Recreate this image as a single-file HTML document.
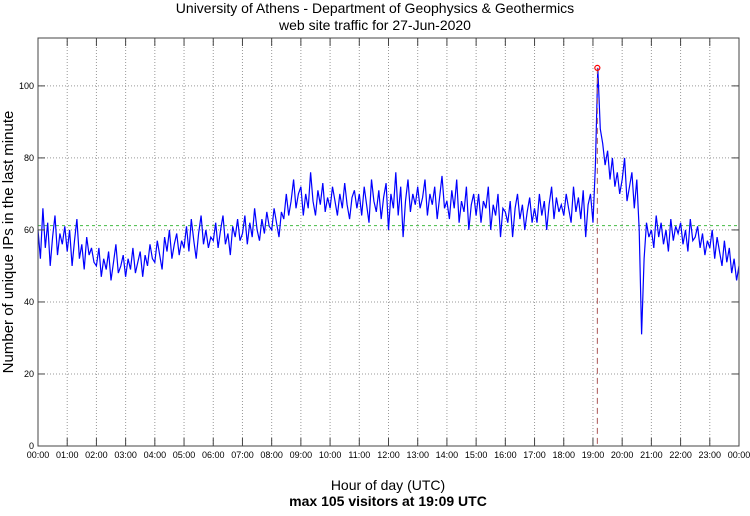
<!DOCTYPE html>
<html><head><meta charset="utf-8"><style>
body{margin:0;background:#fff;width:750px;height:511px;overflow:hidden}
text{font-family:"Liberation Sans",sans-serif;fill:#000}
</style></head><body>
<svg id="chart" width="750" height="511" viewBox="0 0 750 511" xmlns="http://www.w3.org/2000/svg">
<text x="375" y="13" font-size="14" text-anchor="middle">University of Athens - Department of Geophysics &amp; Geothermics</text>
<text x="375" y="30" font-size="14" text-anchor="middle">web site traffic for 27-Jun-2020</text>
<text transform="translate(13,242) rotate(-90)" font-size="15" text-anchor="middle">Number of unique IPs in the last minute</text>
<text x="388" y="490" font-size="14" text-anchor="middle">Hour of day (UTC)</text>
<text x="388" y="506" font-size="14" font-weight="bold" text-anchor="middle">max 105 visitors at 19:09 UTC</text>
<g id="grid"></g><g id="series"></g><g id="axes"></g>
</svg>
<script>
const yTicks=[0,20,40,60,80,100];
const hourLabels=["00:00","01:00","02:00","03:00","04:00","05:00","06:00","07:00","08:00","09:00","10:00","11:00","12:00","13:00","14:00","15:00","16:00","17:00","18:00","19:00","20:00","21:00","22:00","23:00","00:00"];
const visitors=[
60,52,66,55,62,50,58,64,53,59,56,61,
54,60,50,57,63,52,56,49,58,53,55,51,
50,55,47,52,49,54,46,51,56,48,50,53,
47,52,49,55,48,51,54,47,53,50,56,52,
51,57,53,49,58,54,60,52,56,59,53,57,
55,61,54,63,57,52,59,64,56,60,55,58,
57,62,55,60,64,56,59,53,61,58,63,57,
59,64,56,62,58,66,60,57,63,59,65,61,
60,66,62,58,65,63,70,64,68,74,66,70,
72,64,70,66,76,68,64,71,67,73,65,69,
66,72,68,64,70,66,73,67,63,69,71,66,
70,64,72,67,62,74,68,65,71,63,69,73,
60,70,66,76,64,72,58,68,74,65,70,67,
72,66,69,74,64,70,67,72,63,69,75,66,
68,63,71,66,74,62,68,65,72,60,67,70,
64,70,62,68,66,72,60,67,64,70,58,66,
65,62,68,58,66,70,63,67,60,65,69,62,
66,62,70,64,68,60,67,72,63,69,65,67,
64,70,66,62,72,65,69,63,71,58,67,70,
62,78,105,88,84,78,82,74,80,72,76,70,
74,80,68,72,76,66,74,60,31,52,62,58,
60,55,64,58,62,56,60,54,63,57,61,59,
62,56,60,54,63,57,58,61,55,59,53,57,
55,60,52,58,54,50,57,51,55,48,52,46,
50];
const stepMinutes=[5];
const meanValue=[61.2];
const peakTime=[19+9/60];
const peakValue=[105];

const L=38,R=739,T=38,B=446,yMax=113.3;
const xS=h=>L+(R-L)*h/24;
const yS=v=>B-(B-T)*v/yMax;
const NS="http://www.w3.org/2000/svg";
function mk(tag,attrs,parent){const e=document.createElementNS(NS,tag);for(const k in attrs)e.setAttribute(k,attrs[k]);parent.appendChild(e);return e;}
const grid=document.getElementById('grid'),ser=document.getElementById('series'),ax=document.getElementById('axes');
hourLabels.forEach((lab,i)=>{
  const x=xS(i);
  if(i>0&&i<24){const g=mk('line',{x1:x,x2:x,y1:T,y2:B,stroke:'#999','stroke-dasharray':'1,2','stroke-width':1},grid);
  
  
  const t1=mk('line',{x1:x,x2:x,y1:B,y2:B-8,stroke:'#444'},ax);
  
  
  const t2=mk('line',{x1:x,x2:x,y1:T,y2:T+8,stroke:'#444'},ax);
  
  }
  const t=mk('text',{x:x,y:B+12,'font-size':9,'text-anchor':'middle',fill:'#222'},ax);t.textContent=lab;
  
  
});
yTicks.forEach(v=>{
  const y=yS(v);
  if(v>0){const g=mk('line',{x1:L,x2:R,y1:y,y2:y,stroke:'#999','stroke-dasharray':'1,2'},grid);
  
  
  const t1=mk('line',{x1:L,x2:L+7,y1:y,y2:y,stroke:'#444'},ax);
  
  
  const t2=mk('line',{x1:R-7,x2:R,y1:y,y2:y,stroke:'#444'},ax);
  
  }
  const t=mk('text',{x:L-4,y:y+3,'font-size':9,'text-anchor':'end',fill:'#222'},ax);t.textContent=v;
  
  
});
const mean=mk('line',{x1:L,x2:R,y1:yS(meanValue[0]),y2:yS(meanValue[0]),stroke:'#4b4','stroke-dasharray':'3,3'},grid);


const pts=visitors.map((v,i)=>xS(i*stepMinutes[0]/60).toFixed(1)+','+yS(v).toFixed(1)).join(' ');
const line=mk('polyline',{points:pts,fill:'none',stroke:'#00f','stroke-width':1.2},ser);


const pl=mk('line',{x1:xS(peakTime[0]),x2:xS(peakTime[0]),y1:yS(peakValue[0]),y2:B,stroke:'#a55','stroke-dasharray':'6,4'},ser);


const pk=mk('circle',{cx:xS(peakTime[0]),cy:yS(peakValue[0]),r:2.5,fill:'none',stroke:'#f00','stroke-width':1.2},ser);


const fr=mk('rect',{x:L,y:T,width:R-L,height:B-T,fill:'none',stroke:'#444','stroke-width':1},ax);


</script>
</body></html>
